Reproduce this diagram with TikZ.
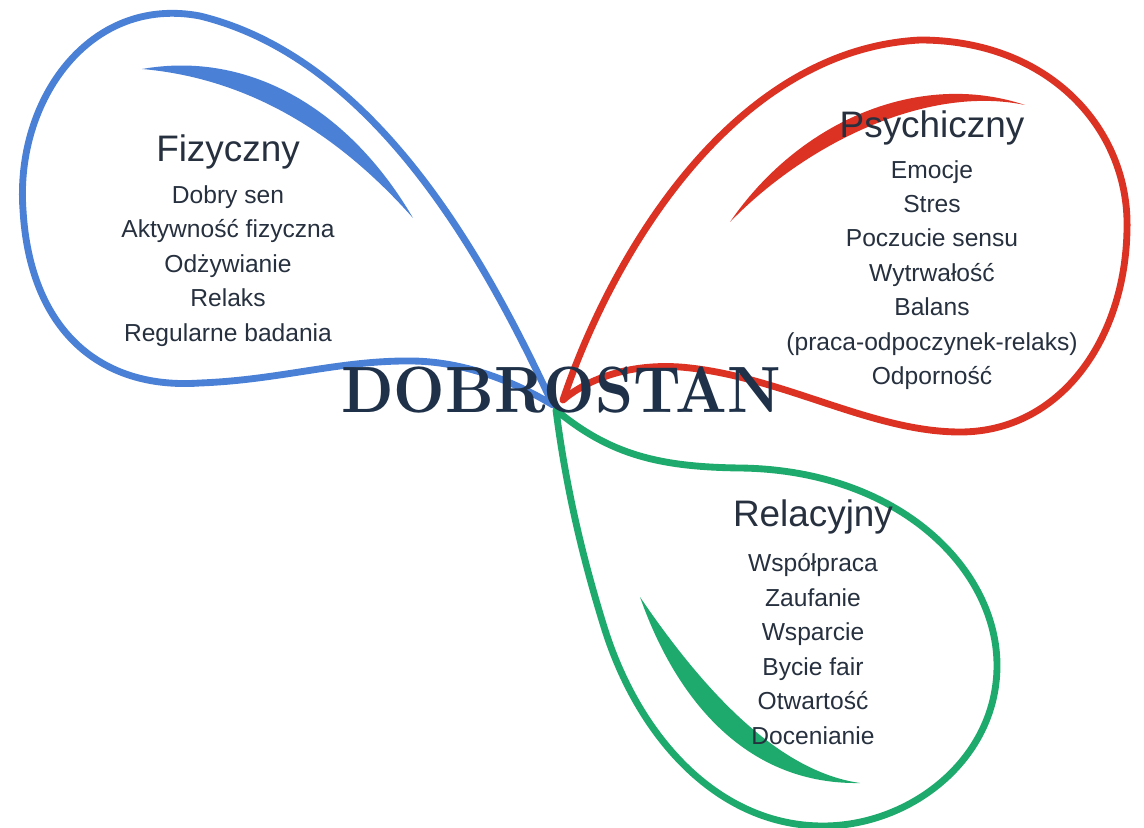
\documentclass[tikz,border=0pt]{standalone}
\usepackage{fontspec}
\usepackage{graphicx}
\usepackage{tikz}
\usetikzlibrary{positioning}
\newfontfamily\labelfont{Liberation Sans}
\definecolor{fizblue}{HTML}{4A80D6}
\definecolor{psyred}{HTML}{DC3224}
\definecolor{relgreen}{HTML}{1DAA6C}
\definecolor{inkdark}{HTML}{26303E}
\definecolor{navy}{HTML}{1E3148}

\begin{document}
\begin{tikzpicture}[
    x=0.02cm, y=-0.02cm,
    loopline/.style={line width=3.9pt, line cap=round, line join=round},
    title/.style={inner sep=0pt, text=inkdark, font=\labelfont\fontsize{21}{24}\selectfont},
    items/.style={inner sep=0pt, text=inkdark, align=center, font=\labelfont\fontsize{14}{19.6}\selectfont}
]
\useasboundingbox (0,0) rectangle (1144,828);

% Centre points of the loops
\coordinate (cb) at (553,405);
\coordinate (cr) at (563,400);
\coordinate (cg) at (556,410);

% Loops
\draw[loopline, fizblue] (cb) .. controls (490,270) and (380,60) .. (200,16)
    .. controls (90,-5) and (15,100) .. (23,210)
    .. controls (30,330) and (100,390) .. (200,383)
    .. controls (280,380) and (340,360) .. (413,361)
    .. controls (470,362) and (520,385) .. (cb);
\draw[loopline, psyred] (cr) .. controls (610,260) and (730,50) .. (920,40)
    .. controls (1050,40) and (1130,130) .. (1127,230)
    .. controls (1125,340) and (1060,432) .. (960,432)
    .. controls (870,432) and (780,375) .. (680,367)
    .. controls (620,363) and (580,385) .. (cr);
\draw[loopline, relgreen] (cg) .. controls (610,455) and (660,467) .. (740,468)
    .. controls (900,470) and (998,570) .. (997,667)
    .. controls (996,760) and (910,826) .. (823,826)
    .. controls (720,826) and (640,740) .. (605,630)
    .. controls (580,550) and (565,480) .. (cg);

% Swooshes
\fill[fizblue] (142,69) .. controls (250,50) and (350,110) .. (413,218)
    .. controls (335,130) and (245,78) .. (142,69);
\fill[psyred] (730,222) .. controls (800,120) and (920,70) .. (1025,105)
    .. controls (930,85) and (810,140) .. (730,222);
\fill[relgreen] (640,597) .. controls (678,705) and (750,785) .. (860,783)
    .. controls (783,772) and (710,700) .. (640,597);

% Texts
\node[title] (fiz) at (228,152) {Fizyczny};
\node[items] (fizlist) at (228,266) {Dobry sen\\Aktywność fizyczna\\Odżywianie\\Relaks\\Regularne badania};

\node[title] (psy) at (932,128) {Psychiczny};
\node[items] (psylist) at (932,275) {Emocje\\Stres\\Poczucie sensu\\Wytrwałość\\Balans\\(praca-odpoczynek-relaks)\\Odporność};

\node[title] (rel) at (813,517) {Relacyjny};
\node[items] (rellist) at (813,649) {Współpraca\\Zaufanie\\Wsparcie\\Bycie fair\\Otwartość\\Docenianie};

\node[inner sep=0pt, text=navy] (dobrostan) at (561,390) {\resizebox{250pt}{26pt}{\bfseries DOBROSTAN}};
\end{tikzpicture}
\end{document}
